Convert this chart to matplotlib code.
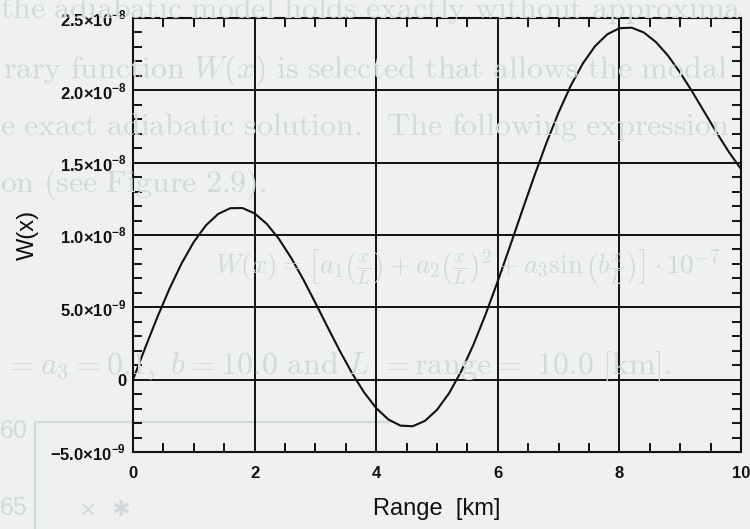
import matplotlib
matplotlib.use('Agg')
import matplotlib.pyplot as plt
from matplotlib.ticker import MultipleLocator, FixedLocator, FixedFormatter

# ---- data ----
range_km = [0.0, 0.2, 0.4, 0.6, 0.8, 1.0, 1.2, 1.4, 1.6, 1.8,
            2.0, 2.2, 2.4, 2.6, 2.8, 3.0, 3.2, 3.4, 3.6, 3.8,
            4.0, 4.2, 4.4, 4.6, 4.8, 5.0, 5.2, 5.4, 5.6, 5.8,
            6.0, 6.2, 6.4, 6.6, 6.8, 7.0, 7.2, 7.4, 7.6, 7.8,
            8.0, 8.2, 8.4, 8.6, 8.8, 9.0, 9.2, 9.4, 9.6, 9.8, 10.0]
w_e9 = [0.000, 2.191, 4.310, 6.282, 8.038, 9.515, 10.664, 11.451, 11.852, 11.862,
        11.493, 10.769, 9.731, 8.431, 6.934, 5.311, 3.640, 2.001, 0.471, -0.875,
        -1.968, -2.752, -3.180, -3.221, -2.858, -2.089, -0.931, 0.588, 2.423, 4.518,
        6.806, 9.213, 11.662, 14.071, 16.365, 18.470, 20.321, 21.863, 23.055, 23.869,
        24.294, 24.331, 24.002, 23.340, 22.393, 21.221, 19.893, 18.484, 17.073, 15.739,
        14.560]
w_scale = 1e-9

x_ticks = [0, 2, 4, 6, 8, 10]
x_tick_labels = ['0', '2', '4', '6', '8', '10']
y_ticks = [-5e-9, 0.0, 5e-9, 1e-8, 1.5e-8, 2e-8, 2.5e-8]
y_tick_labels = ['\u22125.0\u00d710$^{\\mathregular{\u22129}}$', '0',
                 '5.0\u00d710$^{\\mathregular{\u22129}}$',
                 '1.0\u00d710$^{\\mathregular{\u22128}}$',
                 '1.5\u00d710$^{\\mathregular{\u22128}}$',
                 '2.0\u00d710$^{\\mathregular{\u22128}}$',
                 '2.5\u00d710$^{\\mathregular{\u22128}}$']
x_label = 'Range  [km]'
y_label = 'W(x)'

# faded page text behind the chart (thesis page showing through)
page_lines = [
    r'$\mathrm{the\ adiabatic\ model\ holds\ exactly\ without\ approxima}$',
    r'$\mathrm{rary\ function}\ W(x)\ \mathrm{is\ selected\ that\ allows\ the\ modal}$',
    r'$\mathrm{e\ exact\ adiabatic\ solution.\ \ The\ following\ expression}$',
    r'$\mathrm{on\ (see\ Figure\ 2.9).}$',
]
page_formula = (r'$W(x) = \left[a_1\left(\frac{x}{L}\right) + a_2\left(\frac{x}{L}\right)^2'
                r' + a_3\sin\left(b\frac{x}{L}\right)\right]\cdot 10^{-7}$')
page_params = r'$= a_3 = 0.1,\ b = 10.0\ \mathrm{and}\ L\ \mathrm{=range=}\ 10.0\ \mathrm{[km].}$'

# ---- style ----
plt.rcParams['font.family'] = ['Liberation Sans', 'DejaVu Sans']

BG = '#eef1f0'
FADE = '#d3d9da'
INK = '#111111'

fig = plt.figure(figsize=(7.5, 5.29), dpi=100)
fig.patch.set_facecolor(BG)

# background page text
line_y = [0.982, 0.868, 0.760, 0.652]
line_x = [0.0, 0.004, 0.0, 0.0]
for tx, ty, s in zip(line_x, line_y, page_lines):
    fig.text(tx, ty, s, fontsize=23, color=FADE, va='center', ha='left',
             zorder=0, math_fontfamily='cm')
fig.text(0.287, 0.493, page_formula, fontsize=19.5, color=FADE, va='center',
         ha='left', zorder=0, math_fontfamily='cm')
fig.text(0.006, 0.307, page_params, fontsize=23, color=FADE, va='center',
         ha='left', zorder=0, math_fontfamily='cm')
# faint remains of a second figure at the bottom
fig.text(0.0, 0.185, '60', fontsize=18, color=FADE, va='center', ha='left')
fig.text(0.0, 0.04, '65', fontsize=18, color=FADE, va='center', ha='left')
fig.text(0.105, 0.035, '\u00d7  \u2731', fontsize=16, family='DejaVu Sans',
         color=FADE, va='center', ha='left')
fig.add_artist(plt.Line2D([0.047, 0.047, 0.52], [0.0, 0.203, 0.203],
                          transform=fig.transFigure, color=FADE, lw=1.5, zorder=0))

ax = fig.add_axes([0.1773, 0.1456, 0.8107, 0.8204])
ax.set_facecolor('none')
ax.plot(range_km, [v * w_scale for v in w_e9], color=INK, lw=1.5, zorder=3)

ax.set_xlim(0, 10)
ax.set_ylim(-5e-9, 2.5e-8)
ax.xaxis.set_major_locator(FixedLocator(x_ticks))
ax.xaxis.set_major_formatter(FixedFormatter(x_tick_labels))
ax.yaxis.set_major_locator(FixedLocator(y_ticks))
ax.yaxis.set_major_formatter(FixedFormatter(y_tick_labels))
ax.xaxis.set_minor_locator(MultipleLocator(0.5))
ax.yaxis.set_minor_locator(MultipleLocator(1e-9))

ax.grid(True, which='major', color=INK, lw=1.4)
ax.tick_params(which='major', length=0, labelsize=12, colors=INK)
ax.tick_params(axis='x', pad=10)
ax.tick_params(axis='y', pad=5)
ax.tick_params(which='minor', direction='in', length=6.5, width=1.4,
               top=True, right=True, color=INK)
for lab in ax.get_xticklabels() + ax.get_yticklabels():
    lab.set_fontweight('bold')
for sp in ax.spines.values():
    sp.set_linewidth(1.5)
    sp.set_color(INK)

ax.set_xlabel(x_label, fontsize=17, color=INK, labelpad=12)
ax.set_ylabel(y_label, fontsize=17, color=INK, labelpad=8)

fig.savefig('out.png', dpi=100, facecolor=BG)
